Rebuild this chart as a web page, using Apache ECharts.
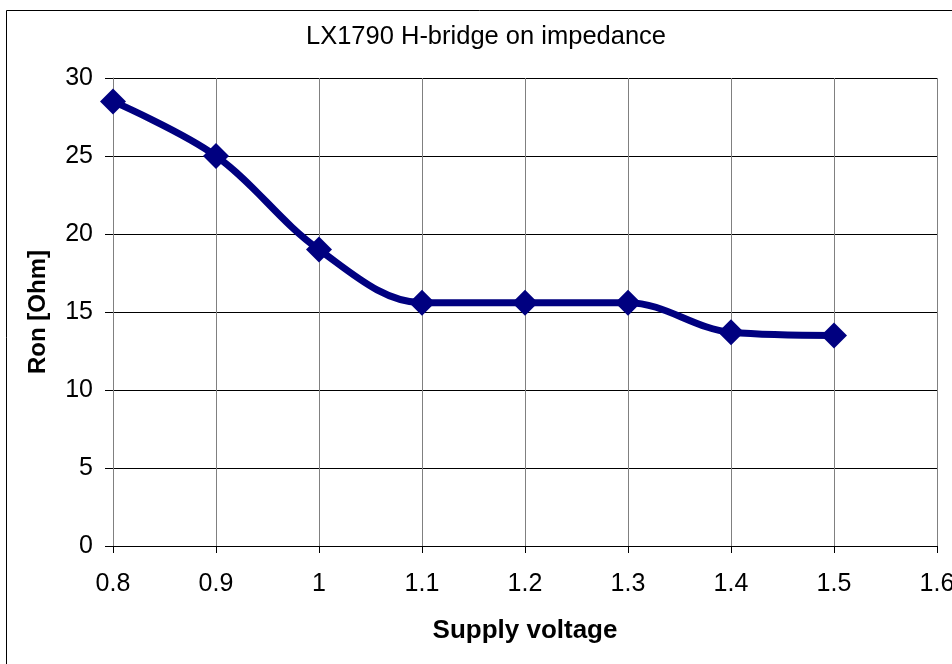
<!DOCTYPE html>
<html>
<head>
<meta charset="utf-8">
<script src="https://cdn.jsdelivr.net/npm/echarts@6/dist/echarts.min.js"></script>
<style>
  html, body { margin: 0; padding: 0; background: #fff; }
  #chart { width: 952px; height: 664px; }
</style>
</head>
<body>
<div id="chart"></div>
<script>
  // supply voltage (V) and on-resistance (Ohm)
  const voltages = [0.8, 0.9, 1.0, 1.1, 1.2, 1.3, 1.4, 1.5];
  const ronValues = [28.5, 25.0, 19.0, 15.6, 15.6, 15.6, 13.7, 13.5];

  const chart = echarts.init(document.getElementById('chart'));
  const font = 'Liberation Sans, Arial, sans-serif';

  const option = {
    backgroundColor: '#fff',
    animation: false,
    title: {
      text: 'LX1790 H-bridge on impedance',
      left: 481,
      top: 19,
      textAlign: 'center',
      textStyle: { fontFamily: font, fontSize: 25.5, fontWeight: 'normal', color: '#000' }
    },
    graphic: [{
      type: 'rect',
      shape: { x: 6.5, y: 10.5, width: 1000, height: 700 },
      style: { fill: 'none', stroke: '#000', lineWidth: 1 },
      silent: true
    }],
    grid: { left: 113, right: 15, top: 78, bottom: 118, outerBoundsMode: 'none' },
    xAxis: {
      type: 'value',
      min: 0.8,
      max: 1.6,
      interval: 0.1,
      name: 'Supply voltage',
      nameLocation: 'middle',
      nameGap: 72,
      nameTextStyle: { fontFamily: font, fontSize: 26, fontWeight: 'bold', color: '#000' },
      axisLine: { lineStyle: { color: '#000', width: 1 } },
      axisTick: { show: true, length: 7, lineStyle: { color: '#000' } },
      axisLabel: {
        fontFamily: font, fontSize: 25, color: '#000', margin: 26,
        formatter: v => String(+v.toFixed(1))
      },
      splitLine: { show: true, lineStyle: { color: '#808080', width: 1 } }
    },
    yAxis: {
      type: 'value',
      min: 0,
      max: 30,
      interval: 5,
      name: 'Ron [Ohm]',
      nameLocation: 'middle',
      nameGap: 63,
      nameTextStyle: { fontFamily: font, fontSize: 24, fontWeight: 'bold', color: '#000' },
      axisLine: { show: true, lineStyle: { color: '#808080', width: 1 } },
      axisTick: { show: true, length: 8, lineStyle: { color: '#000' } },
      axisLabel: { fontFamily: font, fontSize: 25, color: '#000', margin: 20 },
      splitLine: { show: true, lineStyle: { color: '#000', width: 1 } }
    },
    series: [{
      type: 'line',
      data: voltages.map((v, i) => [v, ronValues[i]]),
      smooth: 0.35,
      symbol: 'diamond',
      symbolSize: 26,
      lineStyle: { color: '#000080', width: 7 },
      itemStyle: { color: '#000080' }
    }]
  };

  chart.setOption(option);
</script>
</body>
</html>
